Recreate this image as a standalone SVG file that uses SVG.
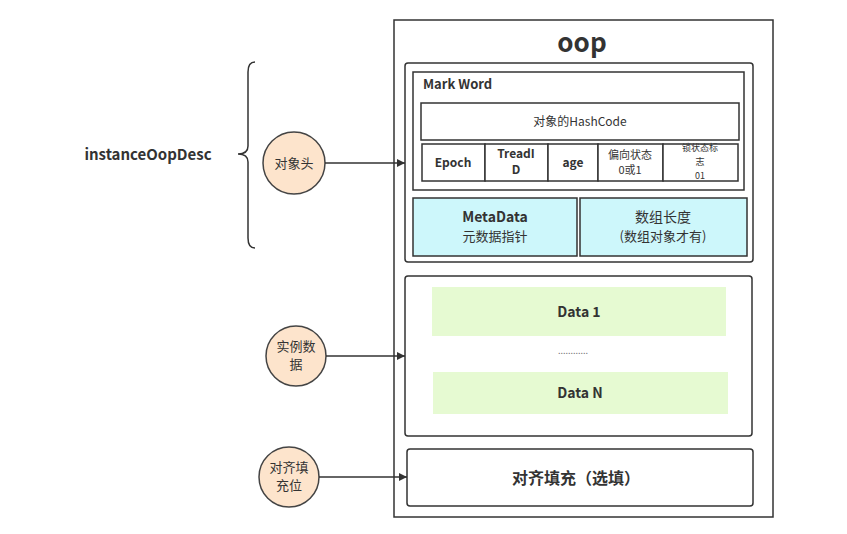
<svg xmlns="http://www.w3.org/2000/svg" width="847" height="534" viewBox="0 0 847 534">
<style>
text{font-family:"Noto Sans CJK SC","Noto Sans",sans-serif;fill:#333;text-anchor:middle}
.b{font-weight:bold}
.box{fill:#fff;stroke:#333;stroke-width:1.5}
.cell{fill:#fff;stroke:#333;stroke-width:1.5}
.cir{fill:#fde4cc;stroke:#444;stroke-width:1.5}
.ln{stroke:#333;stroke-width:1.5;fill:none}
</style>
<defs>
<marker id="ah" viewBox="0 0 10 10" refX="10" refY="5" markerWidth="8" markerHeight="8" markerUnits="userSpaceOnUse" orient="auto">
<path d="M0,0 L10,5 L0,10 z" fill="#333"/>
</marker>
</defs>
<rect width="847" height="534" fill="#fff"/>
<g id="oop">
<rect x="394" y="20" width="379" height="497" class="box"/>
<text x="582" y="52" class="b" font-size="26">oop</text>
</g>
<g id="header">
<rect x="405" y="63" width="348" height="199" rx="3" class="box"/>
</g>
<g id="markword">
<rect x="413" y="72" width="331" height="118" class="box"/>
<text x="423" y="89" class="b" font-size="13" style="text-anchor:start">Mark Word</text>
<rect x="421" y="103" width="318" height="37" class="cell"/>
<text x="580" y="126" font-size="12">对象的HashCode</text>
<rect x="422" y="144" width="63" height="37" class="cell"/>
<rect x="485" y="144" width="63" height="37" class="cell"/>
<rect x="548" y="144" width="50" height="37" class="cell"/>
<rect x="598" y="144" width="65" height="37" class="cell"/>
<rect x="663" y="144" width="75" height="37" class="cell"/>
<text x="453" y="167" class="b" font-size="12">Epoch</text>
<text x="516" y="158" class="b" font-size="12">TreadI</text>
<text x="516" y="174" class="b" font-size="12">D</text>
<text x="573" y="167" class="b" font-size="12">age</text>
<text x="630" y="159" font-size="11">偏向状态</text>
<text x="630" y="174" font-size="11">0或1</text>
<text x="700" y="151" font-size="9">锁状态标</text>
<text x="700" y="165" font-size="9">志</text>
<text x="700" y="179" font-size="9">01</text>
</g>
<g id="metadata">
<rect x="413" y="198" width="164" height="58" fill="#cdf7fb" stroke="#333" stroke-width="1.5"/>
<text x="495" y="222" class="b" font-size="14">MetaData</text>
<text x="495" y="241" font-size="13">元数据指针</text>
</g>
<g id="arraylen">
<rect x="580" y="198" width="167" height="58" fill="#cdf7fb" stroke="#333" stroke-width="1.5"/>
<text x="663" y="222" font-size="14">数组长度</text>
<text x="663" y="241" font-size="13">(数组对象才有)</text>
</g>
<g id="instancedata">
<rect x="405" y="276" width="347" height="160" rx="3" class="box"/>
<rect x="432" y="287" width="294" height="49" fill="#e6fad2"/>
<text x="579" y="317" class="b" font-size="14">Data 1</text>
<text x="573" y="354" font-size="9" style="fill:#777">............</text>
<rect x="433" y="372" width="295" height="42" fill="#e6fad2"/>
<text x="580" y="398" class="b" font-size="14">Data N</text>
</g>
<g id="padding">
<rect x="407" y="449" width="346" height="57" rx="3" class="box"/>
<text x="576" y="484" class="b" font-size="16">对齐填充（选填）</text>
</g>
<g id="instanceOopDesc">
<text x="148" y="160" class="b" font-size="15">instanceOopDesc</text>
<path d="M255,62 Q248,62 248,72 L248,146 Q248,154 238,154 Q248,154 248,162 L248,238 Q248,248 255,248" class="ln"/>
</g>
<g id="c1">
<circle cx="294" cy="163" r="31" class="cir"/>
<text x="294" y="168" font-size="13">对象头</text>
</g>
<g id="c2">
<circle cx="296" cy="356" r="30" class="cir"/>
<text x="296" y="351" font-size="13">实例数</text>
<text x="296" y="369" font-size="13">据</text>
</g>
<g id="c3">
<circle cx="289" cy="477" r="30" class="cir"/>
<text x="289" y="472" font-size="13">对齐填</text>
<text x="289" y="490" font-size="13">充位</text>
</g>
<g id="connectors">
<line x1="325" y1="163" x2="405" y2="163" class="ln" marker-end="url(#ah)"/>
<line x1="326" y1="356" x2="405" y2="356" class="ln" marker-end="url(#ah)"/>
<line x1="319" y1="477" x2="407" y2="477" class="ln" marker-end="url(#ah)"/>
</g>
</svg>
